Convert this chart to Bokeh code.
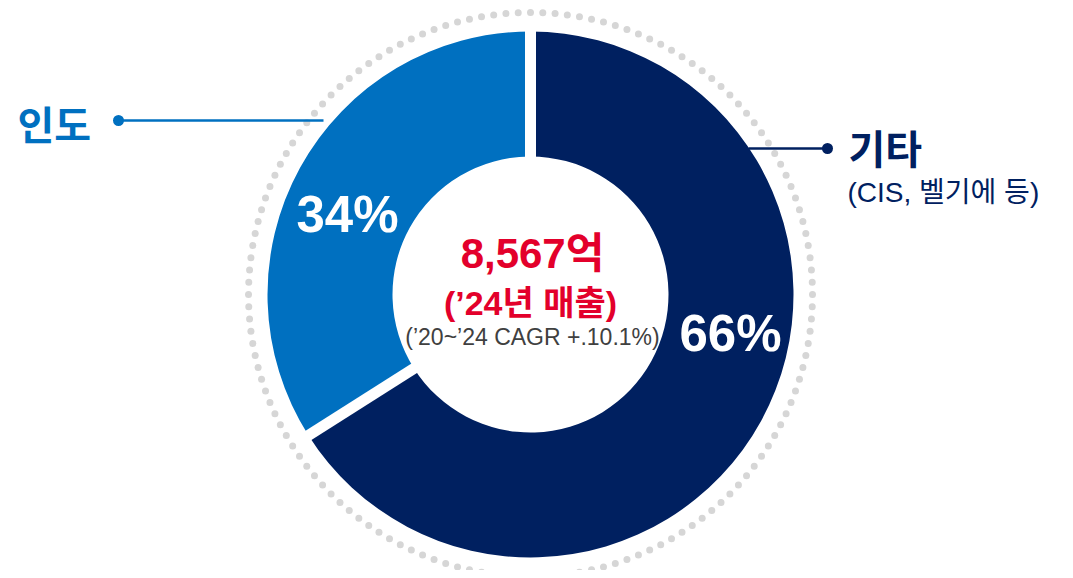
import numpy as np
from bokeh.plotting import figure
from bokeh.models import Range1d
from bokeh.core.properties import value
from bokeh.embed import file_html
from bokeh.resources import INLINE

# ---- data ----
categories = ["기타", "인도"]
shares = [66, 34]
share_labels = ["66%", "34%"]
colors = ["#002060", "#0070C0"]
notes = ["(CIS, 벨기에 등)", ""]
total_label = "8,567억"
sub_label = "(’24년 매출)"
cagr_label = "(’20~’24 CAGR +.10.1%)"

# ---- layout (screen px, y measured downwards) ----
W, H = 1065, 570
CX, CY = 530, 294
R_OUT, R_IN, R_DOTS = 263, 138, 282
NAVY, BLUE, RED, GREY = "#002060", "#0070C0", "#E3002B", "#404040"
LAT_KR = "'Liberation Sans', 'Noto Sans CJK KR'"


def Y(ys):
    return H - np.asarray(ys, dtype=float)


p = figure(width=W, height=H, x_range=Range1d(0, W), y_range=Range1d(0, H),
           output_backend="svg", toolbar_location=None, min_border=0,
           x_axis_type=None, y_axis_type=None)
p.grid.visible = False
p.outline_line_color = None
p.background_fill_color = "white"

# dotted outer ring
th = np.linspace(0, 2 * np.pi, 145)[:-1]
p.scatter(CX + R_DOTS * np.cos(th), Y(CY) + R_DOTS * np.sin(th), size=7,
          fill_color="#D6D6D6", line_color=None)

# donut
frac = np.array(shares, dtype=float) / sum(shares)
cum = np.cumsum(frac)
starts = np.pi / 2 - 2 * np.pi * (cum - frac)
ends = np.pi / 2 - 2 * np.pi * cum
p.annular_wedge(x=[CX] * len(shares), y=[float(Y(CY))] * len(shares),
                inner_radius=R_IN, outer_radius=R_OUT,
                start_angle=list(starts), end_angle=list(ends),
                direction="clock", fill_color=colors, line_color=None)

# white gaps between segments
R_G = R_OUT + 6
p.segment(x0=[CX] * len(starts), y0=[float(Y(CY))] * len(starts),
          x1=list(CX + R_G * np.cos(starts)), y1=list(Y(CY) + R_G * np.sin(starts)),
          line_color="white", line_width=11)

# percent labels
lab_xy = [(730, 333), (347, 214)]
for (lx, ly), t in zip(lab_xy, share_labels):
    p.text(x=[lx], y=[float(Y(ly))], text=[t], text_color="white",
           text_font=value("Liberation Sans"), text_font_style="bold",
           text_font_size="51px", text_align="center", text_baseline="middle")

# center texts
p.text(x=[532], y=[float(Y(253))], text=[total_label], text_color=RED,
       text_font=value(LAT_KR), text_font_style="bold", text_font_size="42px",
       text_align="center", text_baseline="middle")
p.text(x=[530], y=[float(Y(302))], text=[sub_label], text_color=RED,
       text_font=value(LAT_KR), text_font_style="bold", text_font_size="34px",
       text_align="center", text_baseline="middle")
p.text(x=[532], y=[float(Y(336))], text=[cagr_label], text_color=GREY,
       text_font=value(LAT_KR), text_font_size="23px",
       text_align="center", text_baseline="middle")

# leader lines
# 인도
p.segment(x0=[118], y0=[float(Y(120))], x1=[323], y1=[float(Y(120))], line_color=BLUE, line_width=2.5)
p.scatter([118], [float(Y(120))], size=11, fill_color=BLUE, line_color=None)
# 기타
p.segment(x0=[748], y0=[float(Y(148))], x1=[827], y1=[float(Y(148))], line_color=NAVY, line_width=2.5)
p.scatter([827], [float(Y(148))], size=11, fill_color=NAVY, line_color=None)

# category labels
p.text(x=[17], y=[float(Y(122))], text=[categories[1]], text_color=BLUE,
       text_font=value("Noto Sans CJK KR"), text_font_style="bold", text_font_size="40px",
       text_align="left", text_baseline="middle")
p.text(x=[848], y=[float(Y(146))], text=[categories[0]], text_color=NAVY,
       text_font=value("Noto Sans CJK KR"), text_font_style="bold", text_font_size="40px",
       text_align="left", text_baseline="middle")
p.text(x=[847], y=[float(Y(192))], text=[notes[0]], text_color=NAVY,
       text_font=value(LAT_KR), text_font_size="28px",
       text_align="left", text_baseline="middle")

open("out.html", "w").write(file_html(p, INLINE))
